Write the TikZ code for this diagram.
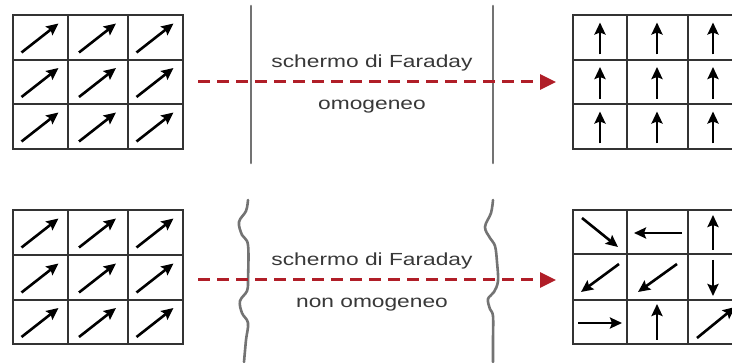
\documentclass[tikz,border=0pt]{standalone}
\usepackage{fontspec}
\setmainfont{Liberation Sans}
\usetikzlibrary{arrows.meta}
\definecolor{beamred}{HTML}{B01E28}
\tikzset{
  gridline/.style={draw=black!80, line width=1.8pt},
  screenline/.style={draw=black!55, line width=2.6pt, line cap=round},
  vec/.style={-{Stealth[length=12pt,width=11pt,inset=2pt]}, line width=2.6pt, draw=black},
  beam/.style={draw=beamred, line width=3pt, dash pattern=on 12pt off 7pt,
    -{Triangle[length=16pt,width=15pt]}},
  caption/.style={text=black!78, font=\fontsize{17.5}{20}\selectfont, xscale=1.3, inner sep=0pt}
}
\begin{document}
\begin{tikzpicture}[x=1pt,y=-1pt]
\useasboundingbox (0,0) rectangle (732,363);
\fill[white] (0,0) rectangle (732,363);

% ---------- 3x3 grids ----------
% left grids (top and bottom)
\foreach \ya/\yb/\yc/\yd in {15/60/104/149, 210/255/300/344}{
  \draw[gridline] (13,\ya) rectangle (183,\yd);
  \draw[gridline] (68,\ya) -- (68,\yd) (128,\ya) -- (128,\yd);
  \draw[gridline] (13,\yb) -- (183,\yb) (13,\yc) -- (183,\yc);
  \pgfmathsetmacro{\ra}{(\ya+\yb)/2}
  \pgfmathsetmacro{\rb}{(\yb+\yc)/2}
  \pgfmathsetmacro{\rc}{(\yc+\yd)/2}
  % uniform diagonal field in every cell
  \foreach \cx in {40.5,98,155.5}{
    \foreach \cy in {\ra,\rb,\rc}{
      \draw[vec] (\cx-19,\cy+15) -- (\cx+18,\cy-14);
    }
  }
}
% right grids (top and bottom)
\foreach \ya/\yb/\yc/\yd in {15/60/104/149, 210/254/300/344}{
  \draw[gridline] (573,\ya) rectangle (742,\yd);
  \draw[gridline] (627,\ya) -- (627,\yd) (688,\ya) -- (688,\yd);
  \draw[gridline] (573,\yb) -- (742,\yb) (573,\yc) -- (742,\yc);
}
% homogeneous screen: all vectors point up
\foreach \cx in {600,657,713}{
  \foreach \cy in {37.5,82,126.5}{
    \draw[vec] (\cx,\cy+17) -- (\cx,\cy-15);
  }
}
% non-homogeneous screen: scattered directions
\draw[vec] (582,218) -- (618,247);
\draw[vec] (682,233) -- (634,233);
\draw[vec] (713,250) -- (713,215);
\draw[vec] (619,264) -- (581,292);
\draw[vec] (677,264) -- (638,292);
\draw[vec] (713,260) -- (713,296);
\draw[vec] (578,323) -- (622,323);
\draw[vec] (657,340) -- (657,304);
\draw[vec] (697,338) -- (735,307);

% ---------- screens ----------
\draw[screenline] (251,6) -- (251,163);
\draw[screenline] (493,6) -- (493,163);
\draw[screenline] plot[smooth, tension=0.6] coordinates {
  (248,200) (246,211) (239,222) (242,235) (248,245) (248,280) (247,291)
  (240,301) (242,313) (248,323) (246,340) (244,362)};
\draw[screenline] plot[smooth, tension=0.6] coordinates {
  (493,200) (491,213) (485,227) (490,238) (495,246) (497,262) (498,281)
  (494,292) (488,299) (490,309) (493,316) (493,340) (493,362)};

% ---------- beams ----------
\coordinate (b1s) at (198,82);
\coordinate (b1e) at (556,82);
\coordinate (b2s) at (198,280);
\coordinate (b2e) at (556,280);
\draw[beam] (b1s) -- (b1e);
\draw[beam] (b2s) -- (b2e);

% ---------- captions ----------
\node[caption] (t1) at (372,63) {schermo di Faraday};
\node[caption] (t2) at (372,107) {omogeneo};
\node[caption] (t3) at (372,261) {schermo di Faraday};
\node[caption] (t4) at (372,305) {non omogeneo};
\end{tikzpicture}
\end{document}
